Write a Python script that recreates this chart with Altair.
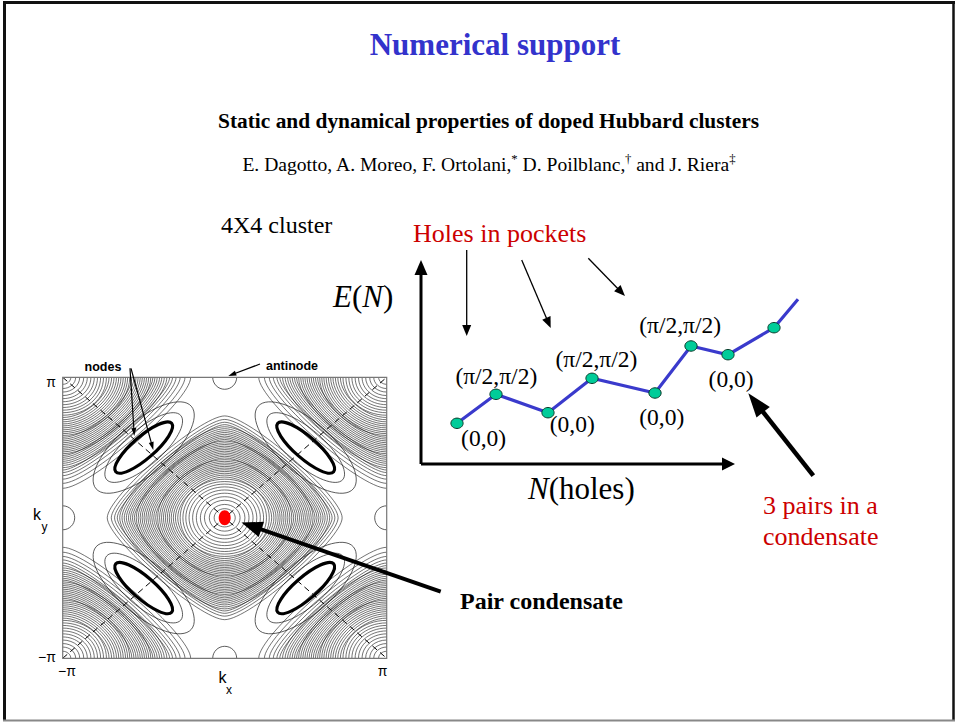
import math
import altair as alt
import pandas as pd

W, H = 956, 723

# ---------------- E(N) schematic (arbitrary units) ----------------
n_holes = [3.6, 7.5, 12.7, 17.1, 23.4, 27.0, 30.7, 35.3, 37.7]
energy = [4.07, 6.97, 5.13, 8.57, 7.10, 11.80, 10.93, 13.63, 16.47]
marked = [True, True, True, True, True, True, True, True, False]
state_labels = ["(0,0)", "(π/2,π/2)", "(0,0)", "(π/2,π/2)", "(0,0)", "(π/2,π/2)", "(0,0)"]
n_axis_end = 31.4
e_axis_end = 20.4

# ---------------- momentum-space map (k in units of pi) ----------------
center_rings = [0.065, 0.095, 0.125, 0.15, 0.175, 0.198, 0.22, 0.24, 0.258, 0.275,
                0.29, 0.304, 0.317, 0.33, 0.342, 0.354, 0.366, 0.378, 0.39, 0.402,
                0.414, 0.426, 0.438, 0.45, 0.462, 0.474, 0.486, 0.498, 0.51, 0.522,
                0.534, 0.546, 0.558, 0.57, 0.582, 0.594, 0.607, 0.62, 0.634, 0.648,
                0.663, 0.68, 0.70, 0.725]
corner_rings = [0.05, 0.08, 0.105, 0.13, 0.152, 0.174, 0.195, 0.215, 0.234, 0.252,
                0.27, 0.286, 0.302, 0.317, 0.332, 0.346, 0.36, 0.374, 0.388, 0.401,
                0.414, 0.427, 0.44, 0.453, 0.466, 0.479, 0.492, 0.505, 0.518, 0.531,
                0.544, 0.557, 0.57, 0.584, 0.598, 0.612, 0.627, 0.643, 0.66, 0.678,
                0.70, 0.725, 0.755, 0.79]
corners = [(-1, 1), (1, 1), (-1, -1), (1, -1)]
pockets = [(-0.5, 0.5), (0.5, 0.5), (-0.5, -0.5), (0.5, -0.5)]
antinodes = [(0, 1), (0, -1), (-1, 0), (1, 0)]
pocket_bold = (0.457, 0.136)                    # (length, width) of the bold Fermi pockets
pocket_rings = [(0.605, 0.222), (0.778, 0.321)]  # lighter level curves around them
antinode_radius = 0.074

# ---------------- byline: text runs, superscript marks ----------------
byline_runs = ["E. Dagotto, A. Moreo, F. Ortolani,", "*", "D. Poilblanc,", "†", "and J. Riera", "‡"]
byline_sup = [False, True, False, True, False, True]
byline_em = [13.72, 0.5, 5.22, 0.5, 4.75, 0.5]   # advance widths in em
byline_space = [0, 0.25, 0, 0.25, 0, 0]          # word space after a run, em

# ---------------- layout ----------------
FX0, FX1, FY0, FY1 = 62.7, 386.7, 377.3, 658.3   # frame of the k-map
PPX = (FX1 - FX0) / 2                           # pixels per pi along kx
PPY = (FY1 - FY0) / 2                           # pixels per pi along ky
EN_X0, EN_Y0, EN_UNIT = 421.0, 464.0, 10.0       # origin and unit of the E(N) sketch

BLUE = "#3333cc"
RED = "#cc0000"
SERIF = "Liberation Serif"
SANS = "Liberation Sans"


def lin(domain, reverse=False):
    if reverse:
        return alt.Scale(domain=domain, nice=False, zero=False, reverse=True)
    return alt.Scale(domain=domain, nice=False, zero=False)


# pixel space of the slide
PXS = lambda: lin([0, W])
PYS = lambda: lin([0, H], reverse=True)
# momentum space
KXS = lambda: lin([-1 - FX0 / PPX, 1 + (W - FX1) / PPX])
KYS = lambda: lin([-1 - (H - FY1) / PPY, 1 + FY0 / PPY])
# E(N) sketch
NXS = lambda: lin([-EN_X0 / EN_UNIT, (W - EN_X0) / EN_UNIT])
EYS = lambda: lin([-(H - EN_Y0) / EN_UNIT, EN_Y0 / EN_UNIT])


def enc(xs, ys, x="x", y="y", x2=None, y2=None):
    e = {"x": alt.X(f"{x}:Q", scale=xs(), axis=None),
         "y": alt.Y(f"{y}:Q", scale=ys(), axis=None)}
    if x2:
        e["x2"] = alt.X2(f"{x2}:Q")
    if y2:
        e["y2"] = alt.Y2(f"{y2}:Q")
    return e


def loop_path(t, a):
    """Closed loop through (+-1,0), (0,+-a); t=0.5523 gives an ellipse, t->0 a diamond."""
    ta = t * a
    return (f"M1,0C1,{ta:.4f} {t:.4f},{a:.4f} 0,{a:.4f}"
            f"C{-t:.4f},{a:.4f} -1,{ta:.4f} -1,0"
            f"C-1,{-ta:.4f} {-t:.4f},{-a:.4f} 0,{-a:.4f}"
            f"C{t:.4f},{-a:.4f} 1,{-ta:.4f} 1,0Z")


CIRCLE_T = 0.5523
ASPECT = PPY / PPX


def roundness(r):
    if r < 0.28:
        return CIRCLE_T
    if r < 0.42:
        return 0.47
    if r < 0.55:
        return 0.37
    if r < 0.65:
        return 0.28
    return 0.21


def ring_rows(cx, cy, radii):
    return [{"x": cx, "y": cy, "size": (2 * r * PPX) ** 2,
             "shape": loop_path(roundness(r), ASPECT)} for r in radii]


def loops_layer(rows, width, color="#111111", opacity=1.0, fill=None):
    df = pd.DataFrame(rows)
    if fill:
        mark = alt.Chart(df).mark_point(filled=True, fill=fill, strokeWidth=0, opacity=opacity)
    else:
        mark = alt.Chart(df).mark_point(filled=False, stroke=color, strokeWidth=width, opacity=opacity)
    e = enc(KXS, KYS)
    e["size"] = alt.Size("size:Q", scale=None, legend=None)
    e["shape"] = alt.Shape("shape:N", scale=None, legend=None)
    if "angle" in df.columns:
        e["angle"] = alt.Angle("angle:Q", scale=None)
    return mark.encode(**e)


layers = []

# level curves around the corners and the centre of the zone
corner_rows = []
for cx, cy in corners:
    corner_rows += ring_rows(cx, cy, corner_rings)
layers.append(loops_layer(corner_rows, 0.65, opacity=0.9))
layers.append(loops_layer(ring_rows(0, 0, center_rings), 0.65, opacity=0.9))

# pockets at (+-pi/2, +-pi/2), elongated across the zone diagonal
tilt = math.degrees(math.atan(PPY / PPX))


def pocket_rows(length, width):
    rows = []
    for kx, ky in pockets:
        rows.append({"x": kx, "y": ky, "size": (length * PPX) ** 2,
                     "shape": loop_path(CIRCLE_T, width / length),
                     "angle": (360 - tilt) if kx * ky < 0 else tilt})
    return rows


light = []
for length, width in pocket_rings:
    light += pocket_rows(length, width)
layers.append(loops_layer(light, 0.7, opacity=0.9))

# small loops at the antinodes
anti_rows = [{"x": kx, "y": ky, "size": (2 * antinode_radius * PPX) ** 2,
              "shape": loop_path(CIRCLE_T, 1.0)} for kx, ky in antinodes]
layers.append(loops_layer(anti_rows, 0.8, color="#333333"))

# bold Fermi pockets
layers.append(loops_layer(pocket_rows(*pocket_bold), 3.2, color="black"))

# dashed zone diagonals
diag = pd.DataFrame({"x": [-1, -1], "y": [-1, 1], "x2": [1, 1], "y2": [1, -1]})
layers.append(alt.Chart(diag).mark_rule(color="black", strokeWidth=1, strokeDash=[6, 4])
              .encode(**enc(KXS, KYS, x2="x2", y2="y2")))

# pair condensate at k = 0
dot = pd.DataFrame({"x": [0], "y": [0], "size": [144], "shape": [loop_path(CIRCLE_T, 1.25)]})
layers.append(loops_layer(dot.to_dict("records"), 0, fill="#ff0000"))

# white surround so the loops end at the frame
M = 160
masks = pd.DataFrame({
    "x": [0, FX1, FX0 - M, FX0 - M],
    "x2": [FX0, FX1 + M, FX1 + M, FX1 + M],
    "y": [FY0 - M, FY0 - M, FY0 - M, FY1],
    "y2": [FY1 + M, FY1 + M, FY0, H],
})
layers.append(alt.Chart(masks).mark_rect(color="white")
              .encode(**enc(PXS, PYS, x2="x2", y2="y2")))

# frame of the k-map
frame = pd.DataFrame({"x": [-1], "y": [-1], "x2": [1], "y2": [1]})
layers.append(alt.Chart(frame).mark_rect(fillOpacity=0, stroke="#777777", strokeWidth=1.2)
              .encode(**enc(KXS, KYS, x2="x2", y2="y2")))

# slide border
border = pd.DataFrame({
    "x": [3, 4.5, 953.5, 3], "x2": [955, 4.5, 953.5, 955],
    "y": [2.5, 2, 2, 720.5], "y2": [2.5, 721, 721, 720.5],
    "w": [3, 3, 2.5, 2], "c": ["#111111", "#111111", "#111111", "#888888"],
})
layers.append(alt.Chart(border).mark_rule().encode(
    **enc(PXS, PYS, x2="x2", y2="y2"),
    strokeWidth=alt.StrokeWidth("w:Q", scale=None),
    color=alt.Color("c:N", scale=None)))


def text(t, x, y, size, color="black", weight="normal", style="normal",
         align="center", font=SERIF, baseline="middle"):
    df = pd.DataFrame({"x": [x], "y": [y], "t": [t]})
    return alt.Chart(df).mark_text(fontSize=size, font=font, fontWeight=weight,
                                   fontStyle=style, color=color, align=align,
                                   baseline=baseline).encode(**enc(PXS, PYS), text="t:N")


layers += [
    text("Numerical support", 495, 46, 31, color=BLUE, weight="bold"),
    text("Static and dynamical properties of doped Hubbard clusters", 488.5, 122, 21.4, weight="bold"),
    text("4X4 cluster", 221, 226, 24, align="left"),
    text("Holes in pockets", 413, 234, 26, color=RED, align="left"),
    text("3 pairs in a", 763, 506, 26, color=RED, align="left"),
    text("condensate", 763, 537, 26, color=RED, align="left"),
    text("Pair condensate", 460, 602, 24, weight="bold", align="left"),
]

# byline with raised footnote marks
BY = 19.6
SUP = 0.65
advances = [em * (BY * SUP if sup else BY) + sp * BY
            for em, sup, sp in zip(byline_em, byline_sup, byline_space)]
bx = 489 - sum(advances) / 2
for run_text, sup, adv in zip(byline_runs, byline_sup, advances):
    if sup:
        layers.append(text(run_text, bx, 159, BY * SUP, align="left"))
    else:
        layers.append(text(run_text, bx, 165, BY, align="left"))
    bx += adv

# axis titles of the sketch, italic symbols mixed with upright parentheses
AX = 31


def run(pieces, x0, y):
    out = []
    x = x0
    for s, italic, em in pieces:
        out.append(text(s, x, y, AX, style="italic" if italic else "normal", align="left"))
        x += em * AX
    return out


layers += run([("E", True, 0.611), ("(", False, 0.333), ("N", True, 0.667), (")", False, 0.333)], 333, 298)
layers += run([("N", True, 0.667), ("(holes)", False, 2.777)], 528, 490)

# labels of the k-map
layers += [
    text("nodes", 103, 367, 12.5, weight="bold", font=SANS),
    text("antinode", 292, 366, 12.5, weight="bold", font=SANS),
    text("π", 51, 383, 14, font=SANS),
    text("−π", 47, 658, 14, font=SANS),
    text("−π", 67, 672, 14, font=SANS),
    text("π", 382.5, 672, 14, font=SANS),
    text("k", 37, 515, 16, font=SANS),
    text("y", 44.5, 527, 12, font=SANS),
    text("k", 222.5, 678, 16, font=SANS),
    text("x", 229, 690, 12, font=SANS),
]

# ---------------- E(N) sketch ----------------
en = pd.DataFrame({"n": n_holes, "e": energy, "i": range(len(n_holes)), "m": marked})
layers.append(alt.Chart(en).mark_line(color="#3a3acc", strokeWidth=3.2).encode(
    **enc(NXS, EYS, x="n", y="e"), order="i:Q"))
layers.append(alt.Chart(en[en["m"]]).mark_point(
    filled=True, fill="#00cc99", stroke="#0b3b2b", strokeWidth=1, opacity=1,
    shape=loop_path(CIRCLE_T, 0.85), size=150).encode(**enc(NXS, EYS, x="n", y="e")))

label_offsets = [(26.6, 15.4), (0.3, -17.6), (24.2, 12.3), (4.4, -18.3),
                 (6.8, 25.3), (-10.9, -20.0), (3.1, 25.0)]
for k, lab in enumerate(state_labels):
    dx, dy = label_offsets[k]
    one = en.iloc[[k]].assign(t=lab)
    layers.append(alt.Chart(one).mark_text(font=SERIF, fontSize=23.5, dx=dx, dy=dy,
                                           baseline="middle", color="black")
                  .encode(**enc(NXS, EYS, x="n", y="e"), text="t:N"))

# axes of the sketch
HEAD_V = (15, 13)
HEAD_H = (13, 13)
axes_df = pd.DataFrame({
    "x": [0, 0], "y": [0, 0],
    "x2": [0, n_axis_end - 0.7 * HEAD_H[0] / EN_UNIT],
    "y2": [e_axis_end - 0.7 * HEAD_V[0] / EN_UNIT, 0],
})
layers.append(alt.Chart(axes_df).mark_rule(color="black", strokeWidth=3)
              .encode(**enc(NXS, EYS, x2="x2", y2="y2")))


def head_shape(length, width):
    return f"M0,0L{width / 2 / length:.4f},1L{-width / 2 / length:.4f},1Z"


axis_heads = pd.DataFrame({
    "x": [0, n_axis_end], "y": [e_axis_end, 0], "angle": [0, 90],
    "size": [4 * HEAD_V[0] ** 2, 4 * HEAD_H[0] ** 2],
    "shape": [head_shape(*HEAD_V), head_shape(*HEAD_H)],
})
layers.append(alt.Chart(axis_heads).mark_point(filled=True, fill="black", strokeWidth=0, opacity=1)
              .encode(**enc(NXS, EYS), size=alt.Size("size:Q", scale=None, legend=None),
                      shape=alt.Shape("shape:N", scale=None, legend=None),
                      angle=alt.Angle("angle:Q", scale=None)))

# ---------------- annotation arrows (slide pixels) ----------------
# tail x, tail y, tip x, tip y, shaft width, head length, head width
arrows = [
    (466.7, 250.0, 466.7, 336.0, 1.3, 11, 9),
    (521.7, 260.0, 550.7, 328.0, 1.3, 11, 9),
    (588.3, 258.3, 625.0, 296.0, 1.3, 11, 9),
    (813.3, 475.7, 748.3, 393.3, 4.5, 24, 17),
    (440.7, 591.7, 241.5, 522.5, 4.0, 21, 16),
    (130.0, 368.3, 134.3, 436.0, 1.2, 8, 5),
    (131.0, 368.3, 153.3, 450.0, 1.2, 8, 5),
    (260.0, 364.0, 228.3, 376.0, 1.2, 8, 5),
]
shafts, heads = [], []
for x1, y1, x2, y2, w, hl, hw in arrows:
    dx, dy = x2 - x1, y2 - y1
    d = math.hypot(dx, dy)
    ux, uy = dx / d, dy / d
    shafts.append({"x": x1, "y": y1, "x2": x2 - ux * hl * 0.7, "y2": y2 - uy * hl * 0.7, "w": w})
    heads.append({"x": x2, "y": y2, "angle": math.degrees(math.atan2(dx, -dy)) % 360,
                  "size": 4 * hl * hl, "shape": head_shape(hl, hw)})

layers.append(alt.Chart(pd.DataFrame(shafts)).mark_rule(color="black").encode(
    **enc(PXS, PYS, x2="x2", y2="y2"), strokeWidth=alt.StrokeWidth("w:Q", scale=None)))
layers.append(alt.Chart(pd.DataFrame(heads)).mark_point(filled=True, fill="black", strokeWidth=0, opacity=1)
              .encode(**enc(PXS, PYS), size=alt.Size("size:Q", scale=None, legend=None),
                      shape=alt.Shape("shape:N", scale=None, legend=None),
                      angle=alt.Angle("angle:Q", scale=None)))

chart = alt.layer(*layers).resolve_scale(
    x="independent", y="independent"
).properties(
    width=W, height=H, padding=0, background="white",
    autosize=alt.AutoSizeParams(type="none"),
).configure_view(strokeWidth=0)

chart.save("out.html", embed_options={"renderer": "svg", "actions": False})
